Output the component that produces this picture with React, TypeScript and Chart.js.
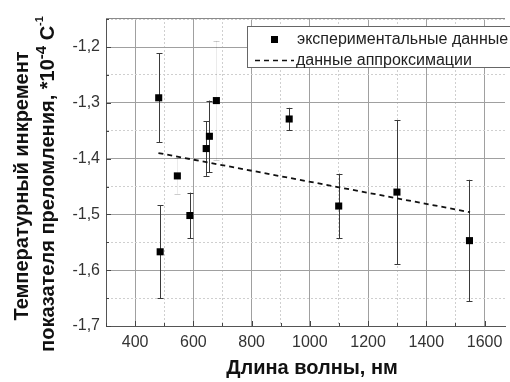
import React, { useEffect, useRef } from "react";
import { Chart, registerables } from "chart.js";

Chart.register(...registerables);

// ---- data ----
const wavelengths = [481, 486, 545, 588, 644, 655, 679, 929, 1099, 1299, 1548];
const increments = [-1.291, -1.567, -1.431, -1.502, -1.382, -1.36, -1.296, -1.329, -1.485, -1.46, -1.547];
const errors = [0.08, 0.083, 0.032, 0.041, 0.049, 0.064, 0.107, 0.02, 0.058, 0.129, 0.109];
const faintErrorBars = [false, false, true, false, false, false, true, false, false, false, false];
const fitX = [480, 1550];
const fitY = [-1.39, -1.496];
const xTickLabels = [400, 600, 800, 1000, 1200, 1400, 1600];
const yTickLabels = [-1.2, -1.3, -1.4, -1.5, -1.6, -1.7];
const legendLabels = ["экспериментальные данные", "данные аппроксимации"];
const xTitle = "Длина волны, нм";
const yTitleLine1 = "Температурный инкремент";
const yTitleLine2 = "показателя преломления, *10";
const yTitleExp = "-4";
const yTitleUnit = " C";
const yTitleUnitExp = "-1";

const FONT = "'Liberation Sans', Arial, sans-serif";
const X_MIN = 300;
const X_MAX = 1670;
const Y_MIN = -1.7;
const Y_MAX = -1.148;

const isMajorX = (v: number) => xTickLabels.some((t) => Math.abs(t - v) < 1e-6);
const isMajorY = (v: number) => yTickLabels.some((t) => Math.abs(t - v) < 1e-6);

const decorPlugin = {
  id: "decor",
  beforeDatasetsDraw(chart: any) {
    const { ctx, chartArea } = chart;
    const xs = chart.scales.x;
    const ys = chart.scales.y;
    ctx.save();
    // top frame line
    ctx.strokeStyle = "#8a8a8a";
    ctx.lineWidth = 1;
    ctx.beginPath();
    ctx.moveTo(chartArea.left, Math.round(chartArea.top) + 0.5);
    ctx.lineTo(chartArea.right, Math.round(chartArea.top) + 0.5);
    ctx.stroke();
    // inward ticks
    ctx.strokeStyle = "#444";
    xs.ticks.forEach((t: any) => {
      const px = Math.round(xs.getPixelForValue(t.value)) + 0.5;
      const len = isMajorX(t.value) ? 5 : 3;
      ctx.beginPath();
      ctx.moveTo(px, chartArea.bottom);
      ctx.lineTo(px, chartArea.bottom - len);
      ctx.stroke();
    });
    ys.ticks.forEach((t: any) => {
      const py = Math.round(ys.getPixelForValue(t.value)) + 0.5;
      const len = isMajorY(t.value) ? 5 : 3;
      ctx.beginPath();
      ctx.moveTo(chartArea.left, py);
      ctx.lineTo(chartArea.left + len, py);
      ctx.stroke();
    });
    // error bars
    wavelengths.forEach((w, i) => {
      const px = Math.round(xs.getPixelForValue(w)) + 0.5;
      const top = ys.getPixelForValue(increments[i] + errors[i]);
      const bot = ys.getPixelForValue(increments[i] - errors[i]);
      ctx.strokeStyle = faintErrorBars[i] ? "rgba(0,0,0,0.08)" : "#3a3a3a";
      ctx.lineWidth = 1;
      ctx.beginPath();
      ctx.moveTo(px, top);
      ctx.lineTo(px, bot);
      ctx.stroke();
      ctx.strokeStyle = faintErrorBars[i] ? "rgba(0,0,0,0.2)" : "#3a3a3a";
      ctx.beginPath();
      ctx.moveTo(px - 3, Math.round(top) + 0.5);
      ctx.lineTo(px + 3, Math.round(top) + 0.5);
      ctx.moveTo(px - 3, Math.round(bot) + 0.5);
      ctx.lineTo(px + 3, Math.round(bot) + 0.5);
      ctx.stroke();
    });
    ctx.restore();
  },
  afterDraw(chart: any) {
    const { ctx, width } = chart;
    ctx.save();
    // legend
    const lx = 247.5, ly = 26.5, lh = 41;
    ctx.fillStyle = "#fff";
    ctx.fillRect(lx, ly, width - lx + 5, lh);
    ctx.strokeStyle = "#666";
    ctx.lineWidth = 1;
    ctx.strokeRect(lx, ly, width - lx + 5, lh);
    ctx.fillStyle = "#000";
    ctx.fillRect(271, 36, 7, 7);
    ctx.strokeStyle = "#111";
    ctx.lineWidth = 1.5;
    ctx.setLineDash([5, 4]);
    ctx.beginPath();
    ctx.moveTo(255, 60.5);
    ctx.lineTo(294, 60.5);
    ctx.stroke();
    ctx.setLineDash([]);
    ctx.fillStyle = "#222";
    ctx.font = `16px ${FONT}`;
    ctx.textBaseline = "middle";
    ctx.textAlign = "left";
    ctx.fillText(legendLabels[0], 297, 39.5);
    ctx.fillText(legendLabels[1], 296, 60.5);

    // x title
    ctx.fillStyle = "#111";
    ctx.font = `bold 20px ${FONT}`;
    ctx.textAlign = "center";
    ctx.fillText(xTitle, 312, 368);

    // y title line 1
    ctx.save();
    ctx.translate(22, 186);
    ctx.rotate(-Math.PI / 2);
    ctx.font = `bold 20px ${FONT}`;
    ctx.textAlign = "center";
    ctx.fillText(yTitleLine1, 0, 0);
    ctx.restore();

    // y title line 2 with superscripts
    ctx.save();
    ctx.translate(48, 184);
    ctx.rotate(-Math.PI / 2);
    const mainFont = `bold 20px ${FONT}`;
    const supFont = `bold 15px ${FONT}`;
    const smallSup = `bold 11px ${FONT}`;
    ctx.font = mainFont;
    const w1 = ctx.measureText(yTitleLine2).width;
    ctx.font = supFont;
    const w2 = ctx.measureText(yTitleExp).width;
    ctx.font = mainFont;
    const w3 = ctx.measureText(yTitleUnit).width;
    ctx.font = smallSup;
    const w4 = ctx.measureText(yTitleUnitExp).width;
    let x = -(w1 + w2 + w3 + w4) / 2;
    ctx.textAlign = "left";
    ctx.font = mainFont;
    ctx.fillText(yTitleLine2, x, 0);
    x += w1;
    ctx.font = supFont;
    ctx.fillText(yTitleExp, x, -6);
    x += w2;
    ctx.font = mainFont;
    ctx.fillText(yTitleUnit, x, 0);
    x += w3;
    ctx.font = smallSup;
    ctx.fillText(yTitleUnitExp, x, -8);
    ctx.restore();

    ctx.restore();
  },
};

export default function App() {
  const ref = useRef<HTMLCanvasElement | null>(null);
  useEffect(() => {
    if (!ref.current) return;
    const chart = new Chart(ref.current, {
      type: "scatter",
      data: {
        datasets: [
          {
            label: legendLabels[0],
            data: wavelengths.map((w, i) => ({ x: w, y: increments[i] })),
            pointStyle: "rect",
            pointRadius: 5,
            pointBackgroundColor: "#000",
            pointBorderWidth: 0,
            showLine: false,
          },
          {
            label: legendLabels[1],
            data: fitX.map((w, i) => ({ x: w, y: fitY[i] })),
            showLine: true,
            pointRadius: 0,
            borderColor: "#111",
            borderWidth: 1.8,
            borderDash: [5, 4],
          },
        ],
      },
      options: {
        animation: false,
        responsive: false,
        events: [],
        layout: { padding: { top: 18, left: 0, right: 0, bottom: 0 } },
        plugins: { legend: { display: false }, tooltip: { enabled: false } },
        scales: {
          x: {
            type: "linear",
            min: X_MIN,
            max: X_MAX,
            afterBuildTicks: (scale: any) => {
              const t = [];
              for (let v = 300; v <= 1600; v += 100) t.push({ value: v });
              scale.ticks = t;
            },
            afterFit: (scale: any) => {
              scale.height = 56;
            },
            ticks: {
              autoSkip: false,
              maxRotation: 0,
              padding: 7,
              color: "#333",
              font: { family: FONT, size: 16 },
              callback: (v: any) => (isMajorX(Number(v)) ? String(v) : ""),
            },
            grid: {
              drawTicks: false,
              color: (c: any) => (c.tick && isMajorX(c.tick.value) ? "#a0a0a0" : "#cfcfcf"),
              lineWidth: 1,
            },
            border: {
              display: true,
              color: "#555",
              width: 1,
              dash: (c: any) => (c.tick && !isMajorX(c.tick.value) ? [2, 2] : []),
            },
          },
          y: {
            type: "linear",
            min: Y_MIN,
            max: Y_MAX,
            afterBuildTicks: (scale: any) => {
              const t = [];
              for (let k = 0; k <= 11; k++) t.push({ value: Math.round((-1.7 + k * 0.05) * 100) / 100 });
              scale.ticks = t;
            },
            afterFit: (scale: any) => {
              scale.width = 106;
            },
            ticks: {
              autoSkip: false,
              padding: 6,
              color: "#333",
              font: { family: FONT, size: 16 },
              callback: (v: any) => (isMajorY(Number(v)) ? Number(v).toFixed(1).replace(".", ",") : ""),
            },
            grid: {
              drawTicks: false,
              color: (c: any) => (c.tick && isMajorY(c.tick.value) ? "#a0a0a0" : "#cfcfcf"),
              lineWidth: 1,
            },
            border: {
              display: true,
              color: "#555",
              width: 1,
              dash: (c: any) => (c.tick && !isMajorY(c.tick.value) ? [2, 2] : []),
            },
          },
        },
      },
      plugins: [decorPlugin],
    } as any);
    return () => chart.destroy();
  }, []);
  return (
    <div style={{ position: "fixed", left: 0, top: 0, width: 510, height: 382, background: "#fff" }}>
      <canvas ref={ref} width={510} height={382} style={{ display: "block", width: 510, height: 382 }} />
    </div>
  );
}
